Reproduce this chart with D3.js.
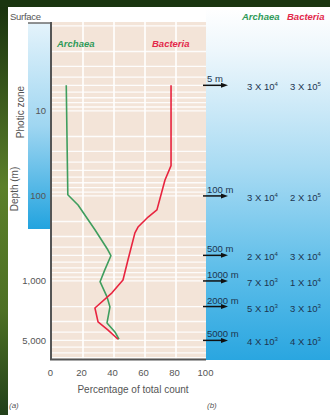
<!DOCTYPE html>
<html><head><meta charset="utf-8">
<script src="https://cdn.jsdelivr.net/npm/d3@7"></script>
<style>html,body{margin:0;padding:0;background:#fff;}svg{display:block;font-family:"Liberation Sans",Arial,sans-serif;}</style>
</head><body>
<script>
// ---- data ----
const archaeaDepth = [5, 97, 128, 250, 430, 505, 745, 1020, 1540, 2020, 3120, 3980, 4850];
const archaeaPct   = [9.2, 10.2, 16.8, 27.7, 36, 38, 34, 31, 35.5, 37.4, 35.5, 40.6, 43.2];
const bacteriaDepth = [5, 44, 65, 146, 177, 232, 272, 566, 975, 1380, 2080, 3030, 3770, 4850];
const bacteriaPct   = [76.8, 76.8, 72.9, 67.7, 62, 55.5, 53.5, 49, 45.8, 38.7, 27.7, 29.7, 36, 42.6];
const xTicks = [0, 20, 40, 60, 80, 100];
const yTicks = [10, 100, 1000, 5000];
const yTickLabels = ["10", "100", "1,000", "5,000"];
const rowDepths = [5, 100, 500, 1000, 2000, 5000];
const rowLabels = ["5 m", "100 m", "500 m", "1000 m", "2000 m", "5000 m"];
const archaeaMant = [3, 3, 2, 7, 5, 4];
const archaeaExp  = [4, 4, 4, 3, 3, 3];
const bacteriaMant = [3, 2, 3, 1, 3, 4];
const bacteriaExp  = [5, 5, 4, 4, 3, 3];

const W = 330, H = 415;
const svg = d3.select("body").append("svg").attr("width", W).attr("height", H);
const defs = svg.append("defs");

const x = d3.scaleLinear().domain([0, 100]).range([52, 207]);
const y = d3.scaleLog().domain([0.9, 8280]).range([22, 359]);

// gradients
const gFrame = defs.append("linearGradient").attr("id", "gFrame").attr("x1", 0).attr("y1", 0).attr("x2", 0).attr("y2", 1);
gFrame.append("stop").attr("offset", "0").attr("stop-color", "#17300e");
gFrame.append("stop").attr("offset", "0.45").attr("stop-color", "#5b7f2a");
gFrame.append("stop").attr("offset", "0.75").attr("stop-color", "#4d7024");
gFrame.append("stop").attr("offset", "1").attr("stop-color", "#22401a");
const gBar = defs.append("linearGradient").attr("id", "gBar").attr("x1", 0).attr("y1", 0).attr("x2", 0).attr("y2", 1);
gBar.append("stop").attr("offset", "0").attr("stop-color", "#e4f3fb");
gBar.append("stop").attr("offset", "0.5").attr("stop-color", "#9fd6f1");
gBar.append("stop").attr("offset", "1").attr("stop-color", "#22a3df");
const gRight = defs.append("linearGradient").attr("id", "gRight").attr("gradientUnits", "userSpaceOnUse").attr("x1", 0).attr("y1", 8).attr("x2", 0).attr("y2", 360);
gRight.append("stop").attr("offset", "0").attr("stop-color", "#ffffff");
gRight.append("stop").attr("offset", "0.12").attr("stop-color", "#eef7fc");
gRight.append("stop").attr("offset", "0.45").attr("stop-color", "#a9dbf3");
gRight.append("stop").attr("offset", "0.75").attr("stop-color", "#5cbde9");
gRight.append("stop").attr("offset", "1").attr("stop-color", "#2aa6e0");

// frame
svg.append("rect").attr("x", 0).attr("y", 0).attr("width", W).attr("height", H).attr("fill", "#fff");
svg.append("rect").attr("x", 0).attr("y", 0).attr("width", 8).attr("height", H).attr("fill", "url(#gFrame)");
svg.append("rect").attr("x", 0).attr("y", 0).attr("width", W).attr("height", 7).attr("fill", "#1a3510");

// right blue panel
svg.append("rect").attr("x", 206).attr("y", 8).attr("width", W - 206).attr("height", 352).attr("fill", "url(#gRight)");

// left photic bar
svg.append("rect").attr("x", 28).attr("y", 23).attr("width", 22).attr("height", 206).attr("fill", "url(#gBar)");
svg.append("line").attr("x1", 28).attr("x2", 50).attr("y1", 23).attr("y2", 23).attr("stroke", "#6d6d6d").attr("stroke-width", 1.5);

// plot background
svg.append("rect").attr("x", 51).attr("y", 22).attr("width", 155).attr("height", 337).attr("fill", "#f3e4d8");

// horizontal gridlines (log minor)
const gridDepths = [];
[1, 10, 100, 1000].forEach(d => { for (let k = 1; k <= 9; k++) { const v = d * k; if (v >= 1 && v <= 8000) gridDepths.push(v); } });
svg.append("g").selectAll("line").data(gridDepths).join("line")
  .attr("x1", 51).attr("x2", 206).attr("y1", d => y(d)).attr("y2", d => y(d))
  .attr("stroke", "#ffffff").attr("stroke-width", 1.3).attr("opacity", 0.9);
// vertical gridlines
svg.append("g").selectAll("line").data([20, 40, 60, 80]).join("line")
  .attr("x1", d => x(d)).attr("x2", d => x(d)).attr("y1", 22).attr("y2", 359)
  .attr("stroke", "#ffffff").attr("stroke-width", 1.6);

// axis lines
svg.append("line").attr("x1", 51).attr("x2", 51).attr("y1", 22).attr("y2", 360).attr("stroke", "#555").attr("stroke-width", 2);
svg.append("line").attr("x1", 50).attr("x2", 206).attr("y1", 359.5).attr("y2", 359.5).attr("stroke", "#555").attr("stroke-width", 2);

// curves
const line = d3.line().x(d => x(d[1])).y(d => y(d[0]));
svg.append("path").datum(archaeaDepth.map((d, i) => [d, archaeaPct[i]])).attr("d", line)
  .attr("fill", "none").attr("stroke", "#3f9e5e").attr("stroke-width", 1.6).attr("stroke-linejoin", "round");
svg.append("path").datum(bacteriaDepth.map((d, i) => [d, bacteriaPct[i]])).attr("d", line)
  .attr("fill", "none").attr("stroke", "#e8243f").attr("stroke-width", 1.6).attr("stroke-linejoin", "round");

// in-plot labels
svg.append("text").attr("x", 57).attr("y", 47).text("Archaea").attr("font-size", 9.5).attr("font-weight", "bold").attr("font-style", "italic").attr("fill", "#2f9a58");
svg.append("text").attr("x", 152).attr("y", 47).text("Bacteria").attr("font-size", 9.5).attr("font-weight", "bold").attr("font-style", "italic").attr("fill", "#e3284a");

// top right legend
svg.append("text").attr("x", 242).attr("y", 20).text("Archaea").attr("font-size", 9.5).attr("font-weight", "bold").attr("font-style", "italic").attr("fill", "#2f9a58");
svg.append("text").attr("x", 287).attr("y", 20).text("Bacteria").attr("font-size", 9.5).attr("font-weight", "bold").attr("font-style", "italic").attr("fill", "#e3284a");

// left labels
svg.append("text").attr("x", 10).attr("y", 20).text("Surface").attr("font-size", 9.5).attr("fill", "#555").attr("letter-spacing", -0.3);
svg.append("text").attr("transform", "translate(24,112) rotate(-90)").attr("text-anchor", "middle").text("Photic zone").attr("font-size", 10).attr("fill", "#555");
svg.append("text").attr("transform", "translate(18,189) rotate(-90)").attr("text-anchor", "middle").text("Depth (m)").attr("font-size", 10).attr("fill", "#555");
svg.append("g").selectAll("text").data(yTicks).join("text")
  .attr("x", 46).attr("y", d => y(d)).attr("dy", "0.35em").attr("text-anchor", "end")
  .text((d, i) => yTickLabels[i]).attr("font-size", 9.5).attr("fill", "#555");

// x axis ticks and title
svg.append("g").selectAll("text").data(xTicks).join("text")
  .attr("x", d => x(d) - 1.5).attr("y", 376).attr("text-anchor", "middle")
  .text(d => d).attr("font-size", 9.5).attr("fill", "#555");
svg.append("text").attr("x", 133).attr("y", 393).attr("text-anchor", "middle").text("Percentage of total count").attr("font-size", 10).attr("fill", "#555");
svg.append("text").attr("x", 9).attr("y", 408).text("(a)").attr("font-size", 8).attr("font-style", "italic").attr("fill", "#555");
svg.append("text").attr("x", 207).attr("y", 408).text("(b)").attr("font-size", 8).attr("font-style", "italic").attr("fill", "#555");

// right rows
const rows = svg.append("g").selectAll("g").data(rowDepths).join("g").attr("transform", d => `translate(0,${y(d)})`);
rows.append("line").attr("x1", 203).attr("x2", 223).attr("y1", 0).attr("y2", 0).attr("stroke", "#111").attr("stroke-width", 1.5);
rows.append("path").attr("d", "M221,-2.5 L228,0 L221,2.5 Z").attr("fill", "#111");
rows.append("text").attr("x", 207).attr("y", -3).text((d, i) => rowLabels[i]).attr("font-size", 9.5).attr("fill", "#1d3550");
function sci(sel, mant, exp, xpos) {
  const t = sel.append("text").attr("x", xpos).attr("y", 5).attr("font-size", 9.5).attr("fill", "#1d3550");
  t.append("tspan").text((d, i) => mant[i] + " X 10");
  t.append("tspan").attr("dy", -4).attr("font-size", 6).text((d, i) => exp[i]);
}
sci(rows, archaeaMant, archaeaExp, 247);
sci(rows, bacteriaMant, bacteriaExp, 290);
</script>
</body></html>
